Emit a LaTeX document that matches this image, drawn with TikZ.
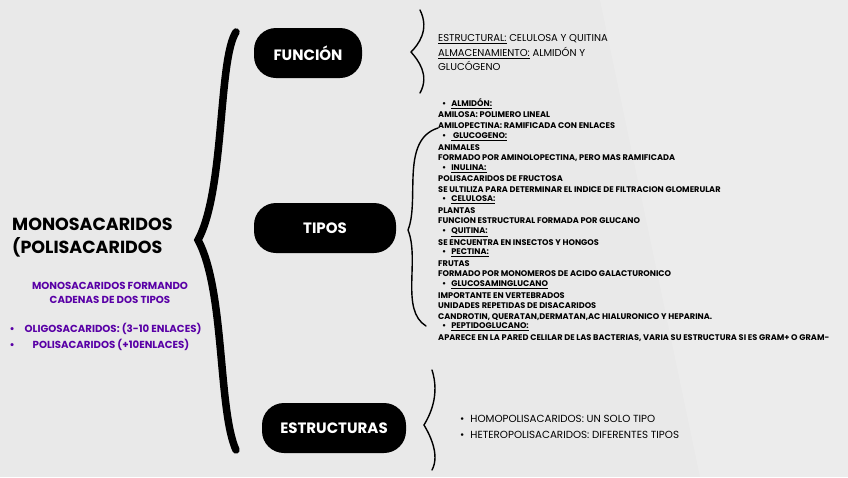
\documentclass[tikz,border=0pt]{standalone}
\usepackage{fontspec}
\setmainfont{Poppins}
\begin{document}
\begin{tikzpicture}[x=1pt,y=-1pt,
  pill/.style={fill=black,text=white,rounded corners=22pt,minimum height=50pt,font=\fontsize{15}{16}\selectfont\bfseries},
  brace/.style={line width=7.5pt,line cap=round},
  sbrace/.style={line width=1.4pt,line cap=round},
  it/.style={anchor=west,font=\fontsize{8.2}{8}\selectfont\bfseries,inner sep=0pt},
  purp/.style={text=violet!70!blue,font=\fontsize{10.2}{14.5}\selectfont\bfseries}]
\fill[gray!17] (0,0) rectangle (848,477);
\fill[white,opacity=0.15] (600,0) -- (848,0) -- (848,477) -- (700,477) -- cycle;
\node[pill,minimum width=108pt] (f) at (308,53) {FUNCIÓN};
\node[pill,minimum width=142pt] (t) at (325,228) {TIPOS};
\node[pill,minimum width=144pt] (e) at (334,428) {ESTRUCTURAS};
\draw[brace] (236,32) .. controls (218,60) and (225,190) .. (198,240) .. controls (225,290) and (218,410) .. (236,450);
\draw[sbrace] (420,10) .. controls (430,30) and (418,45) .. (411,52) .. controls (418,60) and (430,75) .. (420,93);
\draw[sbrace] (438,128) .. controls (400,140) and (420,200) .. (408,230) .. controls (420,260) and (400,310) .. (426,326);
\draw[sbrace] (432,370) .. controls (440,395) and (430,415) .. (424,425) .. controls (430,435) and (440,455) .. (432,470);
\node[anchor=west,font=\fontsize{17.5}{23}\selectfont\bfseries,align=left,inner sep=0pt] (m) at (12,238) {MONOSACARIDOS\\(POLISACARIDOS};
\node[purp,align=center] (p1) at (110,293) {MONOSACARIDOS FORMANDO\\CADENAS DE DOS TIPOS};
\node[purp,anchor=west] (b1) at (6,329) {•\hspace{10pt}OLIGOSACARIDOS: (3-10 ENLACES)};
\node[purp,anchor=west] (b2) at (6,345) {•\hspace{18pt}POLISACARIDOS (+10ENLACES)};
\node[anchor=west,align=left,font=\fontsize{10}{14.5}\selectfont,inner sep=0pt] (fx) at (438,53) {\underline{ESTRUCTURAL:} CELULOSA Y QUITINA\\\underline{ALMACENAMIENTO:} ALMIDÓN Y\\GLUCÓGENO};
\def\b#1{\hspace{4pt}•\hspace{5pt}\underline{#1}}
\foreach \y/\t in {
104/{\b{ALMIDÓN:}},115/{AMILOSA: POLIMERO LINEAL},126/{AMILOPECTINA: RAMIFICADA CON ENLACES},
137/{\b{\ GLUCOGENO:}},148/{ANIMALES},158/{FORMADO POR AMINOLOPECTINA, PERO MAS RAMIFICADA},
169/{\b{INULINA:}},179/{POLISACARIDOS DE FRUCTOSA},190/{SE ULTILIZA PARA DETERMINAR EL INDICE DE FILTRACION GLOMERULAR},
200/{\b{CELULOSA:}},211/{PLANTAS},221/{FUNCION ESTRUCTURAL FORMADA POR GLUCANO},
232/{\b{QUITINA:}},243/{SE ENCUENTRA EN INSECTOS Y HONGOS},
253/{\b{PECTINA:}},264/{FRUTAS},274/{FORMADO POR MONOMEROS DE ACIDO GALACTURONICO},
285/{\b{GLUCOSAMINGLUCANO}},296/{IMPORTANTE EN VERTEBRADOS},306/{UNIDADES REPETIDAS DE DISACARIDOS},
317/{CANDROTIN, QUERATAN,DERMATAN,AC HIALURONICO Y HEPARINA.},
327/{\b{PEPTIDOGLUCANO:}},338/{APARECE EN LA PARED CELILAR DE LAS BACTERIAS, VARIA SU ESTRUCTURA SI ES GRAM+ O GRAM-}}
  {\node[it] at (438,\y) {\t};}
\node[anchor=west,align=left,font=\fontsize{10.3}{16}\selectfont,inner sep=0pt] (ex) at (460,427) {•\hspace{6pt}HOMOPOLISACARIDOS: UN SOLO TIPO\\•\hspace{6pt}HETEROPOLISACARIDOS: DIFERENTES TIPOS};
\end{tikzpicture}
\end{document}
